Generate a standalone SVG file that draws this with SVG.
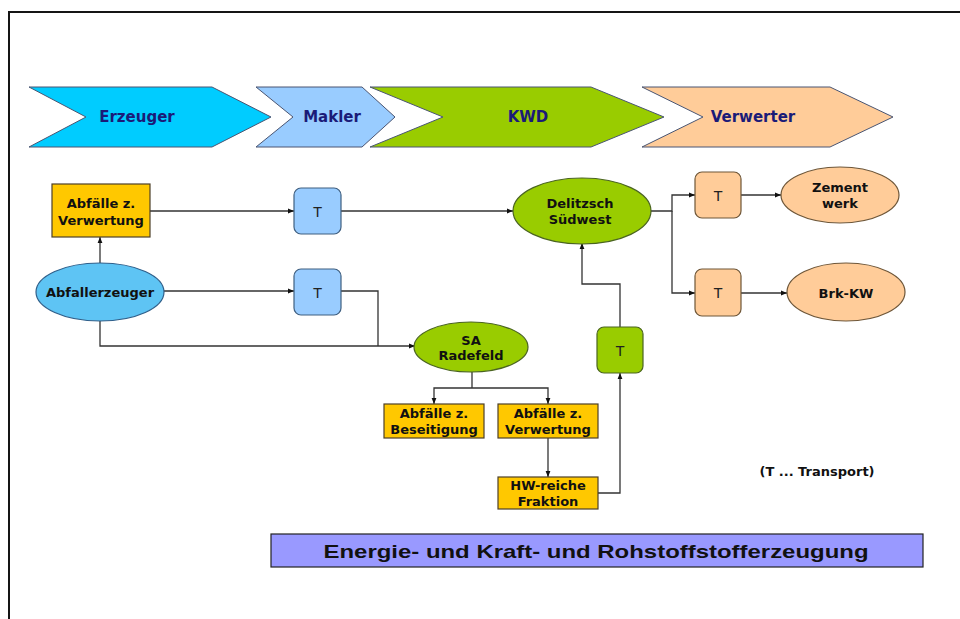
<svg xmlns="http://www.w3.org/2000/svg" width="960" height="619" viewBox="0 0 960 619">
  <style>
    .frame { fill: none; stroke: #151515; stroke-width: 2; }
    .chev { stroke: #4a5572; stroke-width: 1; }
    .chevtxt { font-family: "DejaVu Sans", Verdana, sans-serif; font-weight: bold; font-size: 15px; fill: #1b1b78; text-anchor: middle; dominant-baseline: central; }
    .node { font-family: "DejaVu Sans", Verdana, sans-serif; font-weight: bold; font-size: 13px; fill: #111; text-anchor: middle; dominant-baseline: central; }
    .tt { font-family: "Liberation Sans", Arial, sans-serif; font-size: 15px; fill: #222; text-anchor: middle; dominant-baseline: central; }
    .yellow { fill: #ffc800; stroke: #4d4028; stroke-width: 1.2; }
    .blue { fill: #99ccff; stroke: #3f5f80; stroke-width: 1.2; }
    .lblue { fill: #5ec4f4; stroke: #2f5f8a; stroke-width: 1.2; }
    .green { fill: #99cc00; stroke: #4a6420; stroke-width: 1.2; }
    .orange { fill: #ffcc99; stroke: #6e5638; stroke-width: 1.2; }
    .conn { fill: none; stroke: #333; stroke-width: 1.3; }
  </style>
  <defs>
    <marker id="arr" viewBox="0 0 10 10" refX="10" refY="5" markerWidth="6" markerHeight="6" orient="auto" markerUnits="userSpaceOnUse">
      <path d="M0,1 L10,5 L0,9 Z" fill="#111"/>
    </marker>
  </defs>

  <rect width="960" height="619" fill="#fff"/>
  <path class="frame" d="M9,619 V12 H960"/>

  <!-- process chevrons -->
  <g id="chev-erzeuger">
    <polygon class="chev" fill="#00ccff" points="29,87 212,87 271,117 212,147 29,147 86,117"/>
    <text class="chevtxt" x="137" y="117">Erzeuger</text>
  </g>
  <g id="chev-makler">
    <polygon class="chev" fill="#99ccff" points="256,87 362,87 395,117 362,147 256,147 293,117"/>
    <text class="chevtxt" x="332" y="117">Makler</text>
  </g>
  <g id="chev-kwd">
    <polygon class="chev" fill="#99cc00" points="370,87 591,87 664,117 591,147 370,147 443,117"/>
    <text class="chevtxt" x="528" y="117">KWD</text>
  </g>
  <g id="chev-verwerter">
    <polygon class="chev" fill="#ffcc99" points="642,87 830,87 893,117 830,147 642,147 703,117"/>
    <text class="chevtxt" x="753" y="117">Verwerter</text>
  </g>

  <!-- connectors -->
  <g id="connectors">
    <path class="conn" d="M150,211 H294" marker-end="url(#arr)"/>
    <path class="conn" d="M341,211 H513" marker-end="url(#arr)"/>
    <path class="conn" d="M100,263 V237" marker-end="url(#arr)"/>
    <path class="conn" d="M164,291 H294" marker-end="url(#arr)"/>
    <path class="conn" d="M341,291 H378 V346"/>
    <path class="conn" d="M100,321 V346 H415" marker-end="url(#arr)"/>
    <path class="conn" d="M651,211 H672 V195 H695" marker-end="url(#arr)"/>
    <path class="conn" d="M672,211 V293 H695" marker-end="url(#arr)"/>
    <path class="conn" d="M741,195 H781" marker-end="url(#arr)"/>
    <path class="conn" d="M741,293 H787" marker-end="url(#arr)"/>
    <path class="conn" d="M472,372 V388"/>
    <path class="conn" d="M472,388 H434 V404" marker-end="url(#arr)"/>
    <path class="conn" d="M472,388 H548 V404" marker-end="url(#arr)"/>
    <path class="conn" d="M548,438 V477" marker-end="url(#arr)"/>
    <path class="conn" d="M598,493 H620 V373" marker-end="url(#arr)"/>
    <path class="conn" d="M620,327 V284 H582 V243" marker-end="url(#arr)"/>
  </g>

  <!-- nodes -->
  <g id="abfaelle-verwertung-1">
    <rect class="yellow" x="52" y="184" width="98" height="53"/>
    <text class="node" x="101" y="203">Abfälle z.</text>
    <text class="node" x="101" y="220">Verwertung</text>
  </g>
  <g id="abfallerzeuger">
    <ellipse class="lblue" cx="100" cy="292" rx="64" ry="29"/>
    <text class="node" x="100" y="292">Abfallerzeuger</text>
  </g>
  <g id="t-makler-1">
    <rect class="blue" x="294" y="188" width="47" height="46" rx="7"/>
    <text class="tt" x="317.5" y="211">T</text>
  </g>
  <g id="t-makler-2">
    <rect class="blue" x="294" y="269" width="47" height="46" rx="7"/>
    <text class="tt" x="317.5" y="292">T</text>
  </g>
  <g id="delitzsch-suedwest">
    <ellipse class="green" cx="582" cy="211" rx="69" ry="33"/>
    <text class="node" x="580" y="203">Delitzsch</text>
    <text class="node" x="580" y="219">Südwest</text>
  </g>
  <g id="sa-radefeld">
    <ellipse class="green" cx="471" cy="347" rx="57" ry="25"/>
    <text class="node" x="471" y="340">SA</text>
    <text class="node" x="471" y="355">Radefeld</text>
  </g>
  <g id="t-kwd">
    <rect class="green" x="597" y="327" width="46" height="46" rx="7"/>
    <text class="tt" x="620" y="350">T</text>
  </g>
  <g id="t-verwerter-1">
    <rect class="orange" x="695" y="172" width="46" height="46" rx="7"/>
    <text class="tt" x="718" y="195">T</text>
  </g>
  <g id="t-verwerter-2">
    <rect class="orange" x="695" y="269" width="46" height="47" rx="7"/>
    <text class="tt" x="718" y="292">T</text>
  </g>
  <g id="zementwerk">
    <ellipse class="orange" cx="840" cy="195" rx="59" ry="28"/>
    <text class="node" x="840" y="187">Zement</text>
    <text class="node" x="840" y="203">werk</text>
  </g>
  <g id="brk-kw">
    <ellipse class="orange" cx="846" cy="292" rx="59" ry="29"/>
    <text class="node" x="846" y="293">Brk-KW</text>
  </g>
  <g id="abfaelle-beseitigung">
    <rect class="yellow" x="384" y="404" width="100" height="34"/>
    <text class="node" x="434" y="413">Abfälle z.</text>
    <text class="node" x="434" y="429">Beseitigung</text>
  </g>
  <g id="abfaelle-verwertung-2">
    <rect class="yellow" x="498" y="404" width="100" height="34"/>
    <text class="node" x="548" y="413">Abfälle z.</text>
    <text class="node" x="548" y="429">Verwertung</text>
  </g>
  <g id="hw-reiche-fraktion">
    <rect class="yellow" x="498" y="477" width="100" height="32"/>
    <text class="node" x="548" y="485">HW-reiche</text>
    <text class="node" x="548" y="501">Fraktion</text>
  </g>

  <text class="node" x="817" y="471" font-size="12">(T ... Transport)</text>

  <g id="title-bar">
    <rect x="271" y="534" width="652" height="33" fill="#9999ff" stroke="#222" stroke-width="1.2"/>
    <text x="596" y="551" font-family="'Liberation Sans', Arial, sans-serif" font-weight="bold" font-size="19" fill="#111" text-anchor="middle" dominant-baseline="central" textLength="545" lengthAdjust="spacingAndGlyphs">Energie- und Kraft- und Rohstoffstofferzeugung</text>
  </g>
</svg>
